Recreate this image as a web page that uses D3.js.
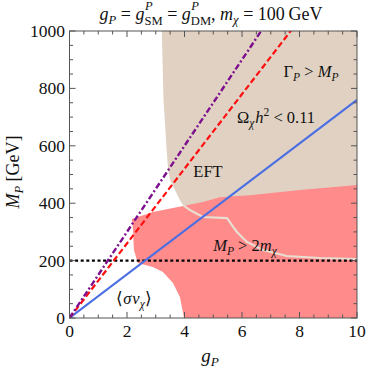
<!DOCTYPE html>
<html><head><meta charset="utf-8">
<script src="https://cdn.jsdelivr.net/npm/d3@7"></script>
</head><body style="margin:0;background:#fff"><svg id="c" width="368" height="374" style="display:block"></svg>
<script>
// ---- data ----
const xTicks = [0, 2, 4, 6, 8, 10];
const yTicks = [0, 200, 400, 600, 800, 1000];
// Gamma_P > M_P region boundary (g_P, M_P)
const widthBoundaryG = [3.21, 3.27, 3.38, 3.43, 3.50, 3.67, 3.84, 3.95, 4.19, 4.64, 5.48, 5.65, 5.83, 6.17, 6.73, 7.56, 8.71, 10.0];
const widthBoundaryM = [1000, 759, 585, 515, 480, 446, 411, 393, 376, 352, 348, 324, 299, 265, 237, 216, 209, 205];
// relic-density (pink) region outline (g_P, M_P)
const relicG = [2.17, 2.90, 3.73, 4.64, 5.23, 6.28, 8.02, 10.0, 10.0, 3.98, 3.95, 3.84, 3.60, 3.25, 2.90, 2.38, 2.24, 2.21];
const relicM = [345, 369, 386, 404, 421, 428, 446, 463, 0, 0, 17, 73, 122, 160, 178, 192, 237, 306];
// straight lines M_P = slope * g_P
const slopeBlue = 76;    // EFT solid
const slopeRed = 130;    // dashed
const slopePurple = 150; // dash-dot
const thresholdM = 200;  // M_P = 2 m_chi

const FONT = "'Liberation Serif', 'Times New Roman', Tinos, serif";
const svg = d3.select("#c");
const x = d3.scaleLinear([0, 10], [69.5, 357]);
const y = d3.scaleLinear([0, 1000], [318, 31]);

svg.append("defs").append("clipPath").attr("id", "clip")
  .append("rect").attr("x", x(0)).attr("y", y(1000)).attr("width", x(10) - x(0)).attr("height", y(0) - y(1000));
const plot = svg.append("g").attr("clip-path", "url(#clip)");
const line = d3.line().x(d => x(d[0])).y(d => y(d[1]));

const tanPts = widthBoundaryG.map((g, i) => [g, widthBoundaryM[i]]);
plot.append("path").attr("d", line([...tanPts, [10, 1000]]) + "Z").attr("fill", "#e0d1c2");
const pinkPts = relicG.map((g, i) => [g, relicM[i]]);
plot.append("path").attr("d", line(pinkPts) + "Z").attr("fill", "#ff8b8b");
plot.append("path").attr("d", line(tanPts.slice(7))).attr("fill", "none").attr("stroke", "#e8ddd0").attr("stroke-width", 2.2);
plot.append("path").attr("d", line([[0, thresholdM], [10, thresholdM]])).attr("fill", "none")
  .attr("stroke", "#000").attr("stroke-width", 2.4).attr("stroke-dasharray", "3,2.6");
plot.append("path").attr("d", line([[0, 0], [10, slopeBlue * 10]])).attr("fill", "none").attr("stroke", "#4a6fe3").attr("stroke-width", 2);
plot.append("path").attr("d", line([[0, 0], [10, slopeRed * 10]])).attr("fill", "none")
  .attr("stroke", "#ff1010").attr("stroke-width", 2.2).attr("stroke-dasharray", "6,3");
plot.append("path").attr("d", line([[0, 0], [10, slopePurple * 10]])).attr("fill", "none")
  .attr("stroke", "#7d0f8f").attr("stroke-width", 2.4).attr("stroke-dasharray", "6,2.5,2,2.5");

const frameCol = "#555";
svg.append("rect").attr("x", x(0)).attr("y", y(1000)).attr("width", x(10) - x(0)).attr("height", y(0) - y(1000))
  .attr("fill", "none").attr("stroke", frameCol).attr("stroke-width", 1);
const tk = svg.append("g").attr("stroke", frameCol).attr("stroke-width", 1);
d3.range(0, 10.001, 0.5).forEach(v => {
  const L = Math.abs(v % 2) < 1e-6 ? 6 : 3.5;
  tk.append("line").attr("x1", x(v)).attr("x2", x(v)).attr("y1", y(0)).attr("y2", y(0) - L);
  tk.append("line").attr("x1", x(v)).attr("x2", x(v)).attr("y1", y(1000)).attr("y2", y(1000) + L);
});
d3.range(0, 1000.1, 50).forEach(v => {
  const L = v % 200 === 0 ? 6 : 3.5;
  tk.append("line").attr("y1", y(v)).attr("y2", y(v)).attr("x1", x(0)).attr("x2", x(0) + L);
  tk.append("line").attr("y1", y(v)).attr("y2", y(v)).attr("x1", x(10)).attr("x2", x(10) - L);
});

function setFont(sel) { return sel.attr("font-family", FONT).style("font-family", FONT, "important"); }

xTicks.forEach(d => setFont(svg.append("text")).attr("x", x(d)).attr("y", 337).attr("fill", "#111")
  .attr("text-anchor", "middle").attr("font-size", 17.5).text(d));
yTicks.forEach(d => setFont(svg.append("text")).attr("x", 65).attr("y", y(d) + 6).attr("fill", "#111")
  .attr("text-anchor", "end").attr("font-size", 17.5).text(d));

function rich(xx, yy, parts, size, anchor) {
  const t = setFont(svg.append("text")).attr("x", xx).attr("y", yy).attr("fill", "#111")
    .attr("font-size", size).attr("text-anchor", anchor || "start");
  parts.forEach(p => {
    const s = setFont(t.append("tspan")).text(p.t);
    if (p.i) s.attr("font-style", "italic");
    if (p.s) s.attr("font-size", size * 0.7);
    if (p.dy) s.attr("dy", p.dy);
    if (p.dx) s.attr("dx", p.dx);
  });
  return t;
}

rich(211, 20, [
  {t: "g", i: 1}, {t: "P", i: 1, s: 1, dy: 4}, {t: " = ", dy: -4},
  {t: "g", i: 1}, {t: "SM", s: 1, dy: 5}, {t: " = ", dy: -5},
  {t: "g", i: 1}, {t: "DM", s: 1, dy: 5}, {t: ", ", dy: -5},
  {t: "m", i: 1}, {t: "χ", i: 1, s: 1, dy: 4}, {t: " = 100\u2009GeV", dy: -4}
], 18, "middle").attr("id", "title");
(function () {
  const spans = document.getElementById("title").querySelectorAll("tspan");
  [4, 7].forEach(k => {
    const n = spans[k].getStartPositionOfChar(0);
    setFont(svg.append("text")).attr("x", n.x + 0.5).attr("y", 10).attr("font-size", 12.5).attr("fill", "#111")
      .attr("font-style", "italic").text("P");
  });
})();

rich(210, 362, [{t: "g", i: 1}, {t: "P", i: 1, s: 1, dy: 4}], 19, "middle");
rich(0, 0, [{t: "M", i: 1}, {t: "P", i: 1, s: 1, dy: 4}, {t: " [GeV]", dy: -4}], 18, "middle")
  .attr("transform", "translate(19,172) rotate(-90)");

rich(311, 77, [{t: "Γ"}, {t: "P", i: 1, s: 1, dy: 4}, {t: " > ", dy: -4}, {t: "M", i: 1}, {t: "P", i: 1, s: 1, dy: 4}], 16.5, "middle");
rich(276, 123, [{t: "Ω"}, {t: "χ", i: 1, s: 1, dy: 4}, {t: "h", i: 1, dy: -4, dx: 1}, {t: "2", s: 1, dy: -7}, {t: " < 0.11", dy: 7}], 16.5, "middle");
rich(208, 177, [{t: "EFT"}], 16.5, "middle");
rich(245, 251, [{t: "M", i: 1}, {t: "P", i: 1, s: 1, dy: 4}, {t: " > 2", dy: -4}, {t: "m", i: 1}, {t: "χ", i: 1, s: 1, dy: 4}], 16.5, "middle");
rich(134, 304, [{t: "⟨"}, {t: "σ", i: 1}, {t: "v", i: 1, dx: 1}, {t: "χ", i: 1, s: 1, dy: 4}, {t: "⟩", dy: -4}], 16.5, "middle");
</script></body></html>
